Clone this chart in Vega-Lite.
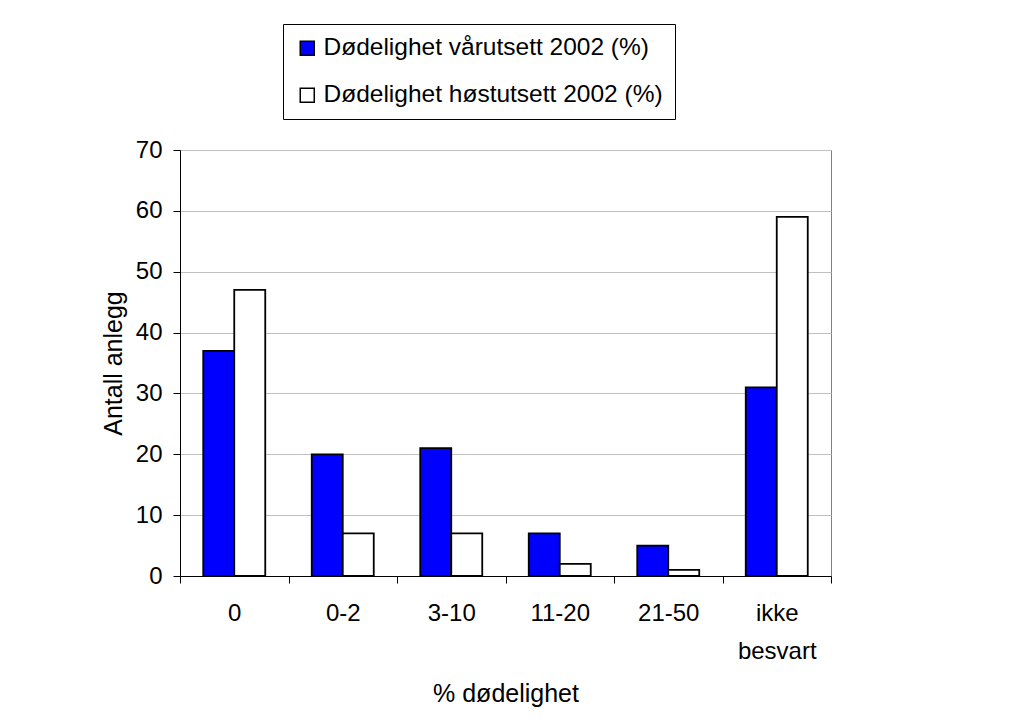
{
  "$schema": "https://vega.github.io/schema/vega-lite/v6.json",
  "width": 651,
  "height": 426,
  "autosize": "none",
  "padding": {"left": 180, "top": 150, "right": 181, "bottom": 151},
  "background": "white",
  "data": {
    "values": [
      {"kategori": "0", "serie": "Dødelighet vårutsett 2002 (%)", "antall": 37},
      {"kategori": "0", "serie": "Dødelighet høstutsett 2002 (%)", "antall": 47},
      {"kategori": "0-2", "serie": "Dødelighet vårutsett 2002 (%)", "antall": 20},
      {"kategori": "0-2", "serie": "Dødelighet høstutsett 2002 (%)", "antall": 7},
      {"kategori": "3-10", "serie": "Dødelighet vårutsett 2002 (%)", "antall": 21},
      {"kategori": "3-10", "serie": "Dødelighet høstutsett 2002 (%)", "antall": 7},
      {"kategori": "11-20", "serie": "Dødelighet vårutsett 2002 (%)", "antall": 7},
      {"kategori": "11-20", "serie": "Dødelighet høstutsett 2002 (%)", "antall": 2},
      {"kategori": "21-50", "serie": "Dødelighet vårutsett 2002 (%)", "antall": 5},
      {"kategori": "21-50", "serie": "Dødelighet høstutsett 2002 (%)", "antall": 1},
      {"kategori": "ikke besvart", "serie": "Dødelighet vårutsett 2002 (%)", "antall": 31},
      {"kategori": "ikke besvart", "serie": "Dødelighet høstutsett 2002 (%)", "antall": 59}
    ]
  },
  "mark": {"type": "bar", "stroke": "black", "strokeWidth": 1.8},
  "encoding": {
    "x": {
      "field": "kategori",
      "type": "nominal",
      "sort": ["0", "0-2", "3-10", "11-20", "21-50", "ikke besvart"],
      "scale": {"paddingInner": 0, "paddingOuter": 0},
      "title": "% dødelighet",
      "axis": {
        "tickBand": "extent",
        "labelAngle": 0,
        "labelFontSize": 24,
        "labelLineHeight": 38,
        "labelPadding": 18,
        "labelBaseline": "top",
        "labelExpr": "datum.value == 'ikke besvart' ? ['ikke', 'besvart'] : datum.label",
        "grid": false,
        "domainColor": "black",
        "tickColor": "black",
        "tickSize": 7,
        "titleFontSize": 25,
        "titlePadding": 18
      }
    },
    "xOffset": {
      "field": "serie",
      "sort": ["Dødelighet vårutsett 2002 (%)", "Dødelighet høstutsett 2002 (%)"],
      "scale": {"paddingInner": 0, "paddingOuter": 0.75}
    },
    "y": {
      "field": "antall",
      "type": "quantitative",
      "scale": {"domain": [0, 70], "nice": false},
      "title": "Antall anlegg",
      "axis": {
        "values": [0, 10, 20, 30, 40, 50, 60, 70],
        "domainColor": "black",
        "tickColor": "black",
        "tickSize": 7,
        "labelPadding": 11,
        "labelFontSize": 24,
        "gridColor": "#c0c0c0",
        "gridWidth": 1,
        "titleFontSize": 25,
        "titlePadding": 9
      }
    },
    "color": {
      "field": "serie",
      "type": "nominal",
      "sort": ["Dødelighet vårutsett 2002 (%)", "Dødelighet høstutsett 2002 (%)"],
      "scale": {
        "domain": ["Dødelighet vårutsett 2002 (%)", "Dødelighet høstutsett 2002 (%)"],
        "range": ["#0000FF", "#FFFFFF"]
      },
      "legend": {
        "title": null,
        "orient": "none",
        "legendX": 103,
        "legendY": -126,
        "strokeColor": "black",
        "fillColor": "white",
        "padding": 12,
        "symbolType": "square",
        "symbolSize": 196,
        "symbolStrokeColor": "black",
        "symbolStrokeWidth": 1.5,
        "symbolOpacity": 1,
        "labelFontSize": 24.5,
        "labelOffset": 4,
        "labelLimit": 500,
        "rowPadding": 22
      }
    }
  },
  "config": {
    "font": "Liberation Sans",
    "view": {"stroke": "#808080", "strokeWidth": 1},
    "axis": {
      "labelColor": "black",
      "titleColor": "black",
      "titleFontWeight": "normal",
      "labelFont": "Liberation Sans",
      "titleFont": "Liberation Sans"
    },
    "legend": {"labelColor": "black", "labelFont": "Liberation Sans"}
  }
}
